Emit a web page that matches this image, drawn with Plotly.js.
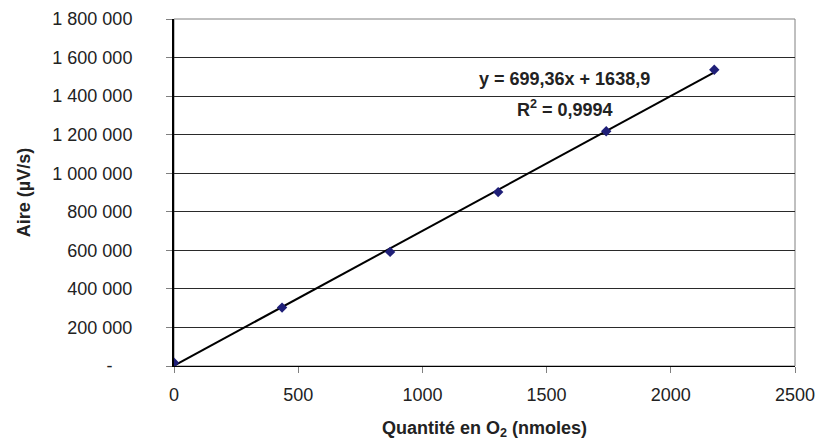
<!DOCTYPE html>
<html>
<head>
<meta charset="utf-8">
<script src="https://cdn.plot.ly/plotly-3.0.1.min.js"></script>
<style>html,body{margin:0;padding:0;background:#fff;}#chart{width:819px;height:441px;}</style>
</head>
<body>
<div id="chart"></div>
<script>
// Data
var quantite = [0, 435, 870, 1305, 1740, 2175];          // nmoles O2
var aire = [17000, 303000, 592000, 902000, 1218000, 1537000]; // µV/s
// Trendline as printed on the chart
var slope = 699.36;
var intercept = 1638.9;
var equationText = "y = 699,36x + 1638,9";
var r2Text = "R<sup>2</sup> = 0,9994";
// Axis ticks
var yTickVals = [0, 200000, 400000, 600000, 800000, 1000000, 1200000, 1400000, 1600000, 1800000];
var yTickText = ["-\u00a0\u00a0\u00a0\u00a0", "200 000", "400 000", "600 000", "800 000", "1 000 000", "1 200 000", "1 400 000", "1 600 000", "1 800 000"];
var xTickVals = [0, 500, 1000, 1500, 2000, 2500];

var xFitStart = quantite[0], xFitEnd = quantite[quantite.length - 1];
var trend = {
  x: [xFitStart, xFitEnd],
  y: [slope * xFitStart + intercept, slope * xFitEnd + intercept],
  mode: 'lines', type: 'scatter',
  line: {color: '#000000', width: 2},
  hoverinfo: 'skip', showlegend: false
};
var pts = {
  x: quantite, y: aire, mode: 'markers', type: 'scatter',
  marker: {symbol: 'diamond', size: 8, color: '#1f1f78'},
  showlegend: false
};

var font = "Liberation Sans, Arial, sans-serif";
var layout = {
  width: 819, height: 441,
  margin: {l: 174, r: 24, t: 19, b: 75},
  paper_bgcolor: '#ffffff', plot_bgcolor: '#ffffff',
  font: {family: font, size: 18, color: '#000000'},
  showlegend: false,
  xaxis: {
    range: [0, 2500], tickvals: xTickVals, ticktext: xTickVals.map(String),
    showgrid: false, zeroline: false,
    showline: true, linecolor: '#000000', linewidth: 1,
    ticks: 'outside', ticklen: 6, tickcolor: '#808080', tickwidth: 1,
    ticklabelstandoff: 6,
    tickfont: {family: font, size: 18, color: '#222'},
    title: {text: '<b>Quantité en O<sub>2</sub> (nmoles)</b>', font: {family: font, size: 18, color: '#222'}, standoff: 17},
    automargin: false, fixedrange: true
  },
  yaxis: {
    range: [0, 1800000], tickvals: yTickVals, ticktext: yTickText,
    showgrid: true, gridcolor: '#2a2a2a', gridwidth: 1, zeroline: false,
    showline: true, linecolor: '#000000', linewidth: 2,
    ticks: 'outside', ticklen: 6, tickcolor: '#808080', tickwidth: 1,
    ticklabelstandoff: 30,
    tickfont: {family: font, size: 18, color: '#222'},
    title: {text: '<b>Aire (µV/s)</b>', font: {family: font, size: 18, color: '#222'}, standoff: 17},
    automargin: false, fixedrange: true
  },
  shapes: [
    {type: 'rect', xref: 'paper', yref: 'paper', x0: 0, x1: 1, y0: 0, y1: 1,
     line: {color: '#808080', width: 1}, fillcolor: 'rgba(0,0,0,0)', layer: 'below'}
  ],
  annotations: [
    {x: 1574, y: 1488700, xref: 'x', yref: 'y', text: '<b>' + equationText + '</b>', showarrow: false,
     font: {family: font, size: 18, color: '#222'}, xanchor: 'center', yanchor: 'middle'},
    {x: 1576, y: 1338300, xref: 'x', yref: 'y', text: '<b>' + r2Text + '</b>', showarrow: false,
     font: {family: font, size: 18, color: '#222'}, xanchor: 'center', yanchor: 'middle'}
  ]
};
Plotly.newPlot('chart', [trend, pts], layout, {displayModeBar: false, staticPlot: true});
</script>
</body>
</html>
